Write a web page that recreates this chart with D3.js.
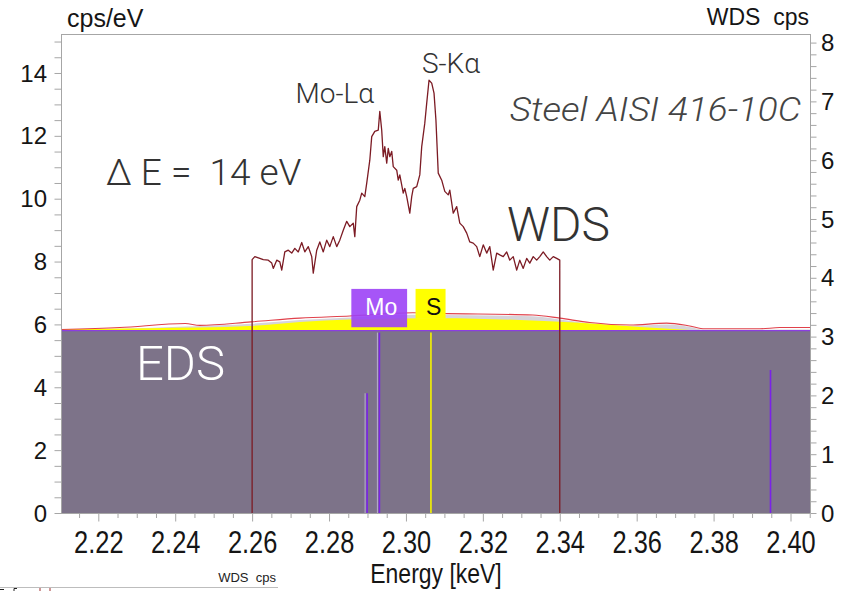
<!DOCTYPE html>
<html>
<head>
<meta charset="utf-8">
<script src="https://cdn.jsdelivr.net/npm/d3@7"></script>
<style>
  html, body { margin: 0; padding: 0; background: #fff; }
  svg text { white-space: pre; }
</style>
</head>
<body>
<svg id="chart" width="846" height="591"></svg>
<script>
// ---------------- DATA ----------------
const xTickValues = [2.22, 2.24, 2.26, 2.28, 2.30, 2.32, 2.34, 2.36, 2.38, 2.40];
const xTickLabels = ["2.22", "2.24", "2.26", "2.28", "2.30", "2.32", "2.34", "2.36", "2.38", "2.40"];
const yLeftTicks = [0, 2, 4, 6, 8, 10, 12, 14];
const yRightTicks = [0, 1, 2, 3, 4, 5, 6, 7, 8];

// WDS spectrum (right axis, cps)
const wdsEnergy = [2.2600, 2.2600, 2.2607, 2.2620, 2.2629, 2.2642, 2.2651, 2.2655, 2.2664, 2.2672, 2.2677,
  2.2685, 2.2694, 2.2703, 2.2711, 2.2720, 2.2729, 2.2737, 2.2746, 2.2755, 2.2759,
  2.2768, 2.2776, 2.2785, 2.2794, 2.2802, 2.2811, 2.2820, 2.2828, 2.2837, 2.2846,
  2.2854, 2.2863, 2.2867, 2.2872, 2.2880, 2.2885, 2.2893, 2.2898, 2.2906, 2.2911,
  2.2919, 2.2928, 2.2932, 2.2937, 2.2941, 2.2945, 2.2950, 2.2954, 2.2958, 2.2963,
  2.2967, 2.2976, 2.2980, 2.2984, 2.2993, 2.2997, 2.3002, 2.3010, 2.3015, 2.3019,
  2.3028, 2.3036, 2.3041, 2.3049, 2.3054, 2.3060, 2.3067, 2.3073, 2.3078, 2.3084,
  2.3093, 2.3101, 2.3110, 2.3114, 2.3123, 2.3132, 2.3140, 2.3149, 2.3158, 2.3166,
  2.3175, 2.3184, 2.3192, 2.3201, 2.3210, 2.3218, 2.3227, 2.3236, 2.3244, 2.3253,
  2.3262, 2.3270, 2.3279, 2.3288, 2.3296, 2.3305, 2.3314, 2.3322, 2.3331, 2.3340,
  2.3348, 2.3357, 2.3366, 2.3374, 2.3383, 2.3392, 2.3400, 2.3400];
const wdsCps = [0, 4.31, 4.36, 4.33, 4.31, 4.30, 4.25, 4.16, 4.30, 4.27, 4.13,
  4.44, 4.47, 4.42, 4.50, 4.44, 4.60, 4.44, 4.53, 4.36, 4.08,
  4.47, 4.61, 4.44, 4.64, 4.53, 4.70, 4.53, 4.64, 4.81, 4.96,
  4.87, 4.93, 4.70, 5.21, 5.32, 5.44, 5.38, 5.61, 6.00, 6.40,
  6.49, 6.51, 6.83, 6.51, 6.06, 6.23, 5.95, 6.20, 6.06, 6.15,
  5.89, 5.83, 5.66, 5.75, 5.44, 5.52, 5.38, 5.10, 5.38, 5.52,
  5.55, 5.75, 6.23, 6.63, 6.97, 7.36, 7.31, 7.14, 6.68, 5.78,
  5.66, 5.47, 5.41, 5.49, 5.10, 5.21, 4.93, 4.87, 4.76, 4.61,
  4.59, 4.53, 4.36, 4.56, 4.42, 4.53, 4.13, 4.42, 4.39, 4.36,
  4.44, 4.30, 4.36, 4.13, 4.30, 4.16, 4.33, 4.25, 4.36, 4.30,
  4.36, 4.44, 4.36, 4.30, 4.36, 4.33, 4.30, 0];

// EDS spectrum plateau (left axis, cps/eV)
const edsEnergy = [2.2103, 2.4052];
const edsCounts = [5.82, 5.82];

// EDS fit components (left axis)
const fitEnergy = [2.2103, 2.2256, 2.2426, 2.2464, 2.2597, 2.2724, 2.2854, 2.3018, 2.3088, 2.3330,
  2.3400, 2.3478, 2.3582, 2.3678, 2.3738, 2.3777, 2.3920, 2.3972, 2.4052];
const fitTotal = [5.84, 5.90, 6.03, 5.97, 6.08, 6.20, 6.27, 6.37, 6.35, 6.30,
  6.20, 6.06, 5.98, 6.04, 5.95, 5.86, 5.86, 5.90, 5.90];
const bgEnergy = [2.2103, 2.2256, 2.2426, 2.2597, 2.2724, 2.2854, 2.3018, 2.3088, 2.3330, 2.3400,
  2.3478, 2.3582, 2.3678, 2.3738, 2.3777, 2.4052];
const bgTop = [5.83, 5.86, 5.93, 6.02, 6.14, 6.22, 6.31, 6.30, 6.26, 6.16,
  6.03, 5.95, 6.00, 5.92, 5.83, 5.84];
const sEnergy = [2.2103, 2.2335, 2.2594, 2.2724, 2.2854, 2.3088, 2.3296, 2.3452, 2.3608, 2.3738];
const sTop = [5.85, 5.88, 5.95, 6.08, 6.16, 6.20, 6.14, 6.05, 5.92, 5.82];

// EDS characteristic line markers (left axis)
const lineEnergy = [2.2899, 2.2931, 2.3065, 2.3948];
const lineHeight = [3.81, 5.74, 5.74, 4.55];
const lineElement = ["Mo", "Mo", "S", "Mo"];

// Element label boxes (energy span, left-axis span)
const boxNames = ["Mo", "S"];
const boxE0 = [2.2858, 2.3025];
const boxE1 = [2.3003, 2.3103];
const boxLow = [5.91, 6.18];
const boxHigh = [7.13, 7.13];

// Peak labels (energy of label centre, right-axis level of baseline)
const peakNames = ["Mo-L\u03b1", "S-K\u03b1"];
const peakEnergy = [2.2815, 2.3117];
const peakLevel = [6.97, 7.48];

// ---------------- LAYOUT ----------------
const L = 61, R = 810.5, T = 34, B = 513;
const svg = d3.select("#chart");
const x = d3.scaleLinear().domain([2.2103, 2.4052]).range([L, R]);
const yL = d3.scaleLinear().domain([0, 15.24]).range([B, T]);
const yR = d3.scaleLinear().domain([0, 8.146]).range([B, T]);

const colEDS = "#7d7389";
const colAxis = "#a6a6a6";
const colMo = "#7a22e8";
const colS = "#f5f500";
const colWDS = "#7c1b24";
const lblFont = "'Liberation Sans', Arial, sans-serif";
const annFont = "Roboto, 'Open Sans', sans-serif";
const narrow = "scale(0.82,1)";

const zip = (a, b) => a.map((v, i) => [v, b[i]]);

// EDS plateau fill
svg.append("path")
  .datum(zip(edsEnergy, edsCounts))
  .attr("d", d3.area().x(d => x(d[0])).y0(yL(0)).y1(d => yL(d[1])))
  .attr("fill", colEDS);

// background/fit gray band
svg.append("path")
  .datum(zip(bgEnergy, bgTop))
  .attr("d", d3.area().x(d => x(d[0])).y0(yL(5.82)).y1(d => yL(d[1])).curve(d3.curveMonotoneX))
  .attr("fill", "#d6d4d9");

// S component (yellow)
svg.append("path")
  .datum(zip(sEnergy, sTop))
  .attr("d", d3.area().x(d => x(d[0])).y0(yL(5.80)).y1(d => yL(d[1])).curve(d3.curveMonotoneX))
  .attr("fill", "#ffff00");

// purple edge on EDS top
svg.append("line")
  .attr("x1", x(edsEnergy[0])).attr("x2", x(edsEnergy[1]))
  .attr("y1", yL(edsCounts[0]) + 0.5).attr("y2", yL(edsCounts[1]) + 0.5)
  .attr("stroke", "#8a3ee0").attr("stroke-width", 1.2);

// total fit (red line)
svg.append("path")
  .datum(zip(fitEnergy, fitTotal))
  .attr("d", d3.line().x(d => x(d[0])).y(d => yL(d[1])).curve(d3.curveMonotoneX))
  .attr("fill", "none").attr("stroke", "#e0414b").attr("stroke-width", 1.1);

// EDS line markers
lineEnergy.forEach((e, i) => {
  const c = lineElement[i] === "S" ? colS : colMo;
  if (lineElement[i] === "Mo" && i < 2) {
    svg.append("line")
      .attr("x1", x(e) - 2).attr("x2", x(e) - 2)
      .attr("y1", yL(0)).attr("y2", yL(lineHeight[i]))
      .attr("stroke", "#b8aed0").attr("stroke-width", 1);
  }
  svg.append("line")
    .attr("x1", x(e)).attr("x2", x(e))
    .attr("y1", yL(0)).attr("y2", yL(lineHeight[i]))
    .attr("stroke", c).attr("stroke-width", 1.6);
});

// WDS spectrum
svg.append("path")
  .datum(zip(wdsEnergy, wdsCps))
  .attr("d", d3.line().x(d => x(d[0])).y(d => yR(d[1])))
  .attr("fill", "none").attr("stroke", colWDS).attr("stroke-width", 1.3)
  .attr("stroke-linejoin", "round");

// Element boxes
boxNames.forEach((n, i) => {
  const isMo = n === "Mo";
  svg.append("rect")
    .attr("x", x(boxE0[i])).attr("width", x(boxE1[i]) - x(boxE0[i]))
    .attr("y", yL(boxHigh[i])).attr("height", yL(boxLow[i]) - yL(boxHigh[i]))
    .attr("fill", isMo ? "#9c42f6" : "#ffff00")
    .attr("opacity", isMo ? 0.9 : 1);
  svg.append("text")
    .attr("x", (x(boxE0[i]) + x(boxE1[i])) / 2 + (isMo ? 2 : 3))
    .attr("y", yL(boxHigh[i]) + 26)
    .attr("text-anchor", "middle")
    .attr("font-family", lblFont).attr("font-size", 23)
    .attr("fill", isMo ? "#ffffff" : "#111111")
    .text(n);
});

// ---------------- AXES ----------------
svg.append("line").attr("x1", L).attr("x2", R).attr("y1", T + 0.5).attr("y2", T + 0.5).attr("stroke", colAxis);
svg.append("line").attr("x1", L + 0.5).attr("x2", L + 0.5).attr("y1", T).attr("y2", B).attr("stroke", colAxis);
svg.append("line").attr("x1", R).attr("x2", R).attr("y1", T).attr("y2", B).attr("stroke", colAxis);
svg.append("line").attr("x1", L).attr("x2", R).attr("y1", B + 0.5).attr("y2", B + 0.5).attr("stroke", colAxis);

// left axis
const leftMinor = d3.range(0, 15.01, 0.5);
const gL = svg.append("g").attr("transform", `translate(${L + 0.5},0)`)
  .call(d3.axisLeft(yL).tickValues(leftMinor).tickSize(7).tickFormat(""));
gL.select(".domain").remove();
gL.selectAll("line").attr("stroke", colAxis);
svg.append("g").selectAll("text").data(yLeftTicks).join("text")
  .attr("x", 47).attr("y", d => yL(d)).attr("dy", "0.36em")
  .attr("text-anchor", "end")
  .attr("font-family", lblFont).attr("font-size", 24).attr("fill", "#151515")
  .text(d => d);

// right axis
const rightMinor = d3.range(0, 8.001, 0.2);
const gR = svg.append("g").attr("transform", `translate(${R},0)`)
  .call(d3.axisRight(yR).tickValues(rightMinor).tickSize(6).tickFormat(""));
gR.select(".domain").remove();
gR.selectAll("line").attr("stroke", colAxis);
svg.append("g").selectAll("text").data(yRightTicks).join("text")
  .attr("x", 821).attr("y", d => yR(d)).attr("dy", "0.36em")
  .attr("text-anchor", "start")
  .attr("font-family", lblFont).attr("font-size", 24).attr("fill", "#151515")
  .text(d => d);

// bottom axis
const bottomMinor = d3.range(2.215, 2.4051, 0.005).filter(v => xTickValues.every(t => Math.abs(t - v) > 1e-6));
const gBm = svg.append("g").attr("transform", `translate(0,${B + 0.5})`)
  .call(d3.axisBottom(x).tickValues(bottomMinor).tickSize(4.5).tickFormat(""));
gBm.select(".domain").remove();
gBm.selectAll("line").attr("stroke", colAxis);
const gBM = svg.append("g").attr("transform", `translate(0,${B + 0.5})`)
  .call(d3.axisBottom(x).tickValues(xTickValues).tickSize(8).tickFormat((d, i) => xTickLabels[i]));
gBM.select(".domain").remove();
gBM.selectAll("line").attr("stroke", colAxis);
gBM.selectAll("text")
  .attr("font-family", lblFont).attr("font-size", 31).attr("fill", "#151515")
  .attr("y", 0).attr("dy", 0)
  .attr("transform", "translate(0,39) " + narrow);

// axis titles
svg.append("text").attr("x", 67).attr("y", 27)
  .attr("font-family", lblFont).attr("font-size", 25).attr("fill", "#151515").text("cps/eV");
svg.append("text").attr("x", 809).attr("y", 25).attr("text-anchor", "end")
  .attr("font-family", lblFont).attr("font-size", 23).attr("fill", "#151515").text("WDS  cps");
svg.append("text").attr("x", 0).attr("y", 0).attr("text-anchor", "middle")
  .attr("transform", "translate(436,583) " + narrow)
  .attr("font-family", lblFont).attr("font-size", 28).attr("fill", "#151515").text("Energy [keV]");

// ---------------- ANNOTATIONS ----------------
peakNames.forEach((n, i) => {
  svg.append("text")
    .attr("x", x(peakEnergy[i])).attr("y", yR(peakLevel[i]))
    .attr("text-anchor", "middle")
    .attr("font-family", annFont).attr("font-weight", 300).attr("font-size", 28)
    .attr("fill", "#333333").text(n);
});
svg.append("text").attr("x", 0).attr("y", 0).attr("text-anchor", "end")
  .attr("transform", "translate(801,121) scale(1.12,1)")
  .attr("font-family", annFont).attr("font-weight", 300).attr("font-style", "italic")
  .attr("font-size", 33).attr("fill", "#444444").text("Steel AISI 416-10C");
svg.append("text").attr("x", 106).attr("y", 185)
  .attr("font-family", annFont).attr("font-weight", 300).attr("font-size", 37)
  .attr("fill", "#333333").text("\u0394 E =  14 eV");
svg.append("text").attr("x", 507).attr("y", 241)
  .attr("font-family", annFont).attr("font-weight", 300).attr("font-size", 48)
  .attr("fill", "#333333").text("WDS");
svg.append("text").attr("x", 136).attr("y", 380)
  .attr("font-family", annFont).attr("font-weight", 300).attr("font-size", 49)
  .attr("fill", "#ffffff").text("EDS");

// cut-off fragment of a second chart at the bottom-left
svg.append("line").attr("x1", 0).attr("x2", 278).attr("y1", 587.5).attr("y2", 587.5).attr("stroke", "#bdbdbd");
svg.append("text").attr("x", 276).attr("y", 582).attr("text-anchor", "end")
  .attr("font-family", lblFont).attr("font-size", 13).attr("fill", "#222").text("WDS  cps");
[40, 50].forEach(px => svg.append("line").attr("x1", px).attr("x2", px).attr("y1", 588).attr("y2", 591)
  .attr("stroke", "#a03030").attr("stroke-width", 1));
svg.append("path").attr("d", "M17,588.5 H14 V591").attr("fill", "none").attr("stroke", "#222").attr("stroke-width", 1);
svg.append("path").attr("d", "M0,589.5 H4").attr("fill", "none").attr("stroke", "#222").attr("stroke-width", 1);
</script>
</body>
</html>
